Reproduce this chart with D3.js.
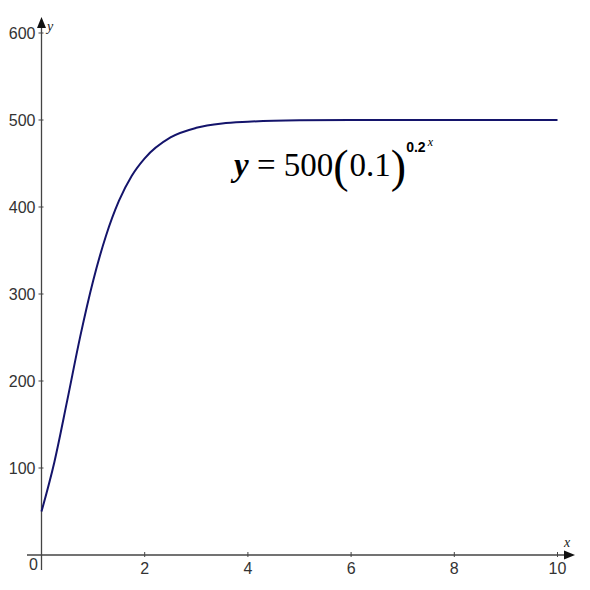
<!DOCTYPE html>
<html>
<head>
<meta charset="utf-8">
<script src="https://cdn.jsdelivr.net/npm/d3@7"></script>
<style>
  body { margin: 0; background: #fff; }
  svg { display: block; }
  .tick-label { font-family: "Liberation Sans Narrow", "Liberation Sans", Arial, sans-serif; font-size: 16px; fill: #333; }
  .axis-name { font-family: "Liberation Serif", "Times New Roman", serif; font-size: 14px; font-style: italic; fill: #222; }
</style>
</head>
<body>
<div id="chart"></div>
<script>
// values
var xValues = [0, 0.25, 0.5, 0.75, 1, 1.25, 1.5, 1.75, 2, 2.5, 3, 3.5, 4, 5, 6, 8, 10];
var yValues = [50, 107, 178, 251, 315, 367, 407, 436, 456, 480, 491, 496, 498, 499.6, 500, 500, 500];
var xTicks = [2, 4, 6, 8, 10];
var yTicks = [100, 200, 300, 400, 500, 600];

var W = 590, H = 590;
var svg = d3.select("#chart").append("svg").attr("width", W).attr("height", H);

// scales (origin at 41.5, 555)
var x = d3.scaleLinear().domain([0, 10]).range([41.5, 557.5]);
var y = d3.scaleLinear().domain([0, 600]).range([555, 33]);

var axisColor = "#444";

// x axis line + arrow
svg.append("line").attr("x1", 27).attr("x2", 568).attr("y1", y(0)).attr("y2", y(0))
  .attr("stroke", axisColor).attr("stroke-width", 1.3);
svg.append("path").attr("d", `M575,${y(0)} L564,${y(0) - 4.5} L564,${y(0) + 4.5} Z`).attr("fill", "#111");

// y axis line + arrow
svg.append("line").attr("x1", x(0)).attr("x2", x(0)).attr("y1", 24).attr("y2", 570)
  .attr("stroke", axisColor).attr("stroke-width", 1.3);
svg.append("path").attr("d", `M${x(0)},17 L${x(0) - 4.5},28 L${x(0) + 4.5},28 Z`).attr("fill", "#111");

// ticks
svg.selectAll(".xt").data(xTicks).join("line")
  .attr("x1", d => x(d)).attr("x2", d => x(d))
  .attr("y1", y(0) - 3).attr("y2", y(0) + 2)
  .attr("stroke", axisColor).attr("stroke-width", 1);
svg.selectAll(".yt").data(yTicks).join("line")
  .attr("x1", x(0) - 3).attr("x2", x(0) + 2)
  .attr("y1", d => y(d)).attr("y2", d => y(d))
  .attr("stroke", axisColor).attr("stroke-width", 1);

// tick labels
svg.selectAll(".xl").data(xTicks).join("text").attr("class", "tick-label")
  .attr("x", d => x(d)).attr("y", 574).attr("text-anchor", "middle").text(d => d);
svg.selectAll(".yl").data(yTicks).join("text").attr("class", "tick-label")
  .attr("x", 35.5).attr("y", d => y(d) + 6).attr("text-anchor", "end").text(d => d);
svg.append("text").attr("class", "tick-label").attr("x", 38).attr("y", 570)
  .attr("text-anchor", "end").text("0");

// axis names
svg.append("text").attr("class", "axis-name").attr("x", 567).attr("y", 547)
  .attr("text-anchor", "middle").text("x");
svg.append("text").attr("class", "axis-name").attr("x", 50).attr("y", 31)
  .attr("text-anchor", "middle").text("y");

// curve
var pts = xValues.map((d, i) => [d, yValues[i]]);
var line = d3.line().x(d => x(d[0])).y(d => y(d[1])).curve(d3.curveMonotoneX);
svg.append("path").datum(pts).attr("d", line)
  .attr("fill", "none").attr("stroke", "#14146b").attr("stroke-width", 2);

// equation
var eq = svg.append("text").attr("x", 234).attr("y", 176)
  .style("font-family", "Liberation Serif, Times New Roman, serif").style("font-size", "33px").attr("fill", "#000");
eq.append("tspan").style("font-style", "italic").style("font-weight", "bold").text("y");
eq.append("tspan").text(" = 500");
eq.append("tspan").style("font-size", "46px").attr("y", 182).text("(");
eq.append("tspan").attr("y", 176).attr("dx", 1).text("0.1");
eq.append("tspan").style("font-size", "46px").attr("y", 182).text(")");
eq.append("tspan").style("font-size", "14px").style("font-weight", "bold")
  .style("font-family", "Liberation Sans Narrow, Liberation Sans, Arial, sans-serif")
  .attr("y", 152).text("0.2");
eq.append("tspan").style("font-size", "12px").style("font-style", "italic").attr("dx", 2).attr("y", 146).text("x");
</script>
</body>
</html>
